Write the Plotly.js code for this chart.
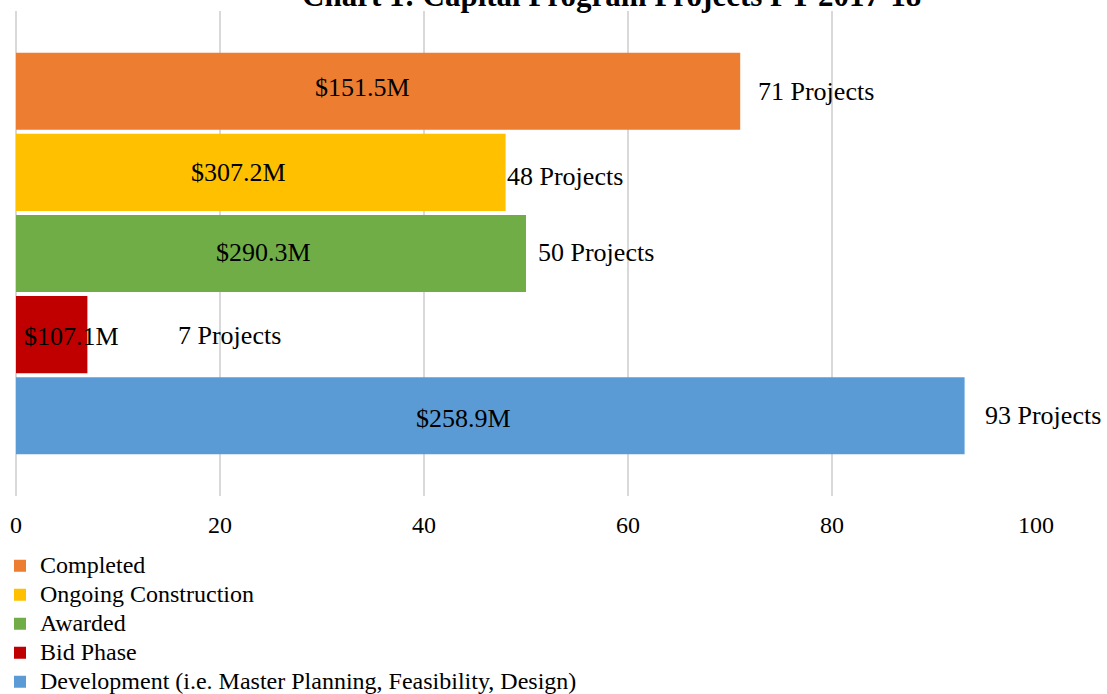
<!DOCTYPE html>
<html>
<head>
<meta charset="utf-8">
<script src="https://cdn.plot.ly/plotly-3.0.1.min.js"></script>
<style>html,body{margin:0;padding:0;background:#fff;}#chart{width:1107px;height:694px;}</style>
</head>
<body>
<div id="chart"></div>
<script>
// ---- data ----
const categories = ['Completed', 'Ongoing Construction', 'Awarded', 'Bid Phase', 'Development (i.e. Master Planning, Feasibility, Design)'];
const projectCounts = [71, 48, 50, 7, 93];
const budgetLabels = ['$151.5M', '$307.2M', '$290.3M', '$107.1M', '$258.9M'];
const projectLabels = ['71 Projects', '48 Projects', '50 Projects', '7 Projects', '93 Projects'];
const xTicks = [0, 20, 40, 60, 80, 100];

// ---- styling ----
const colors = ['#ED7D31', '#FFC000', '#70AD47', '#C00000', '#5B9BD5'];
const serif = "'Liberation Serif', 'Times New Roman', serif";
// manual label nudges (px), as placed in the original chart
const budgetShiftX = [-16, -22, -7.5, 20, -27];
const budgetShiftY = [3.5, 0, 1.5, -1.5, -3];
const countShiftX = [16, -1, 10, 89, 18];
const countShiftY = [-0.5, -4.5, 1.5, -0.5, 0];

const traces = categories.map((c, i) => ({
  type: 'bar',
  orientation: 'h',
  x: [projectCounts[i]],
  y: [c],
  name: '<span style="font-size:24px">' + c + '</span>',
  width: 0.95,
  marker: {color: colors[i]},
  hoverinfo: 'skip'
}));

const annotations = [];
categories.forEach((c, i) => {
  annotations.push({
    x: projectCounts[i] / 2, y: c, xref: 'x', yref: 'y',
    text: budgetLabels[i], showarrow: false,
    xanchor: 'center', yanchor: 'middle',
    xshift: budgetShiftX[i], yshift: budgetShiftY[i],
    font: {family: serif, size: 26, color: '#000'}
  });
  annotations.push({
    x: projectCounts[i], y: c, xref: 'x', yref: 'y',
    text: projectLabels[i], showarrow: false,
    xanchor: 'left', yanchor: 'middle',
    xshift: countShiftX[i], yshift: countShiftY[i],
    font: {family: serif, size: 26, color: '#000'}
  });
});
annotations.push({
  x: 0.584, y: 1.0315, xref: 'paper', yref: 'paper',
  text: '<b>Chart 1: Capital Program Projects FY 2017-18</b>',
  showarrow: false, xanchor: 'center', yanchor: 'middle',
  font: {family: serif, size: 31, color: '#000'}
});

const layout = {
  width: 1107, height: 694,
  margin: {l: 16, r: 71, t: 11, b: 198, pad: 0, autoexpand: false},
  paper_bgcolor: '#fff', plot_bgcolor: '#fff',
  font: {family: serif, color: '#000'},
  barmode: 'overlay',
  showlegend: true,
  hovermode: false,
  xaxis: {
    range: [0, 100], tickvals: xTicks, ticktext: xTicks.map(String),
    showgrid: true, gridcolor: '#d9d9d9', gridwidth: 2,
    zeroline: true, zerolinecolor: '#d9d9d9', zerolinewidth: 2,
    showline: false, ticks: '', ticklabelstandoff: 12, automargin: false,
    tickfont: {family: serif, size: 24, color: '#000'}, fixedrange: true
  },
  yaxis: {
    type: 'category', categoryorder: 'array', categoryarray: categories.slice().reverse(),
    range: [-0.99, 4.99], showticklabels: false, showgrid: false, zeroline: false,
    showline: false, ticks: '', fixedrange: true, automargin: false
  },
  legend: {
    orientation: 'v', x: 0, xref: 'container', xanchor: 'left',
    y: 0.2130, yref: 'container', yanchor: 'top',
    traceorder: 'normal', itemwidth: 30, bgcolor: 'rgba(0,0,0,0)',
    font: {family: serif, size: 20, color: '#000'}
  },
  annotations: annotations
};

Plotly.newPlot('chart', traces, layout, {displayModeBar: false, staticPlot: true});
</script>
</body>
</html>
